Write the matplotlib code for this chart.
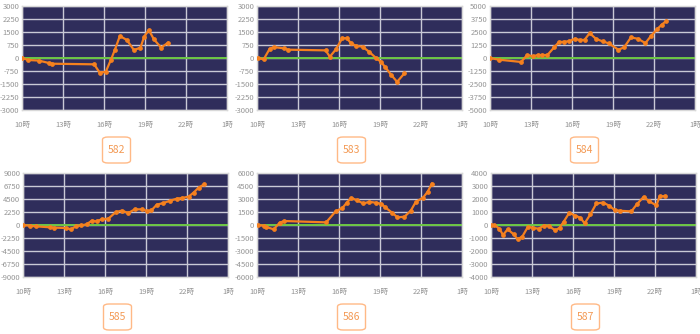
import matplotlib.pyplot as plt
from matplotlib.patches import FancyBboxPatch

plt.rcParams['font.family'] = ['Noto Sans CJK SC', 'DejaVu Sans']

# hours (10 = 10時, 25 = 1時 next day) and values
s582_x = [10.0, 10.46, 11.24, 11.97, 12.23, 15.28, 15.69, 16.13, 16.5, 16.79, 17.16, 17.67,
          18.19, 18.67, 18.94, 19.28, 19.65, 20.18, 20.69]
s582_y = [0, -115, -150, -290, -330, -365, -850, -790, -115, 460, 1270, 1040,
          460, 600, 1230, 1615, 1080, 600, 885]

s583_x = [10.05, 10.49, 10.93, 11.25, 11.98, 12.28, 15.02, 15.33, 15.77, 16.24, 16.56, 16.85,
          17.22, 17.73, 18.22, 18.71, 19.08, 19.37, 19.84, 20.25, 20.79]
s583_y = [0, -75, 535, 630, 555, 480, 440, 75, 495, 1145, 1145, 880,
          705, 650, 345, 0, -230, -515, -995, -1375, -880]

s584_x = [10.0, 10.64, 12.27, 12.72, 13.16, 13.48, 13.83, 14.2, 14.69, 15.04, 15.38, 15.8,
          16.2, 16.6, 16.92, 17.29, 17.78, 18.28, 18.7, 19.39, 19.81, 20.31, 20.83, 21.37,
          21.79, 22.23, 22.55, 22.9]
s584_y = [0, -160, -380, 285, 160, 285, 285, 285, 1020, 1530, 1560, 1620,
          1850, 1720, 1750, 2390, 1815, 1590, 1400, 800, 1020, 1975, 1850, 1430,
          2135, 2770, 3185, 3570]

s585_x = [10.0, 10.51, 10.93, 11.96, 12.28, 13.18, 13.5, 13.87, 14.26, 14.65, 15.04, 15.38,
          15.75, 16.24, 16.8, 17.22, 17.71, 18.17, 18.69, 19.1, 19.4, 19.79, 20.28, 20.77,
          21.26, 21.62, 22.11, 22.48, 22.85, 23.26]
s585_y = [0, -115, -230, -400, -460, -520, -750, -230, -60, 115, 750, 635,
          980, 1095, 2250, 2480, 2080, 2710, 2710, 2420, 2540, 3520, 3810, 4210,
          4560, 4670, 4900, 5600, 6460, 7040]

s586_x = [10.05, 10.49, 10.69, 11.22, 11.66, 12.0, 15.06, 15.75, 16.24, 16.56, 16.9, 17.29,
          17.78, 18.22, 18.74, 19.1, 19.4, 19.89, 20.28, 20.79, 21.25, 21.62, 22.14, 22.48,
          22.8]
s586_y = [0, -75, -230, -500, 270, 460, 305, 1565, 1950, 2560, 3135, 2865,
          2485, 2675, 2560, 2445, 2025, 1415, 880, 955, 1645, 2675, 3135, 3820,
          4775]

s587_x = [10.0, 10.24, 10.61, 10.88, 11.22, 11.66, 11.95, 12.29, 12.71, 13.1, 13.49, 13.85,
          14.22, 14.71, 15.02, 15.32, 15.73, 16.17, 16.54, 16.85, 17.27, 17.71, 18.2, 18.66,
          19.05, 19.46, 20.27, 20.68, 21.17, 21.56, 22.1, 22.34, 22.71]
s587_y = [0, 0, -280, -765, -330, -715, -1095, -890, -125, -230, -280, -50,
          -75, -410, -205, 255, 940, 715, 560, 125, 815, 1655, 1730, 1480,
          1145, 1095, 1045, 1605, 2165, 1835, 1505, 2215, 2215]

names = ['582', '583', '584', '585', '586', '587']
series = [(s582_x, s582_y), (s583_x, s583_y), (s584_x, s584_y),
          (s585_x, s585_y), (s586_x, s586_y), (s587_x, s587_y)]
limits = [3000, 3000, 5000, 9000, 6000, 4000]

hour_ticks = [10, 13, 16, 19, 22, 25]
hour_labels = ['10時', '13時', '16時', '19時', '22時', '1時']

# axes boxes in pixels: left, top
boxes = [(22, 6), (257, 6), (490, 6), (23, 173), (257, 173), (491, 173)]
W, H = 700, 334
aw, ah = 205, 104

fig = plt.figure(figsize=(7, 3.34), dpi=100)

for (px, py), name, (xs, ys), lim in zip(boxes, names, series, limits):
    ax = fig.add_axes([px / W, 1 - (py + ah) / H, aw / W, ah / H])
    ax.set_facecolor('#2f2d5b')
    ax.set_xlim(10, 25)
    ax.set_ylim(-lim, lim)
    yt = [lim * k / 4 for k in range(-4, 5)]
    ax.set_yticks(yt)
    ax.set_yticklabels([str(int(v)) for v in yt])
    ax.set_xticks(hour_ticks)
    ax.set_xticklabels(hour_labels)
    ax.tick_params(length=0, labelsize=5.5, colors='#959595')
    ax.tick_params(axis='y', pad=2)
    ax.tick_params(axis='x', pad=8)
    ax.grid(True, color='#c9c9d6', linewidth=1.0)
    ax.set_axisbelow(True)
    for sp in ax.spines.values():
        sp.set_color('#d8d8d8')
        sp.set_linewidth(1.0)
    ax.axhline(0, color='#6cc644', linewidth=1.4, zorder=2)
    ax.plot(xs, ys, color='#f5801e', linewidth=1.6, marker='o', markersize=2.4, zorder=3)

    # label box under each panel
    cx = px + aw / 2 - 8
    by = py + ah + 27
    bw, bh = 28, 26
    fig.patches.append(FancyBboxPatch(((cx - bw / 2) / W, 1 - (by + bh) / H), bw / W, bh / H,
                                      boxstyle='round,pad=0,rounding_size=0.008',
                                      transform=fig.transFigure, facecolor='white',
                                      edgecolor='#ffb986', linewidth=1.0))
    fig.text(cx / W, 1 - (by + bh / 2) / H, name, ha='center', va='center',
             color='#f39a55', fontsize=7.5)

fig.savefig('out.png', dpi=100, facecolor='white')
